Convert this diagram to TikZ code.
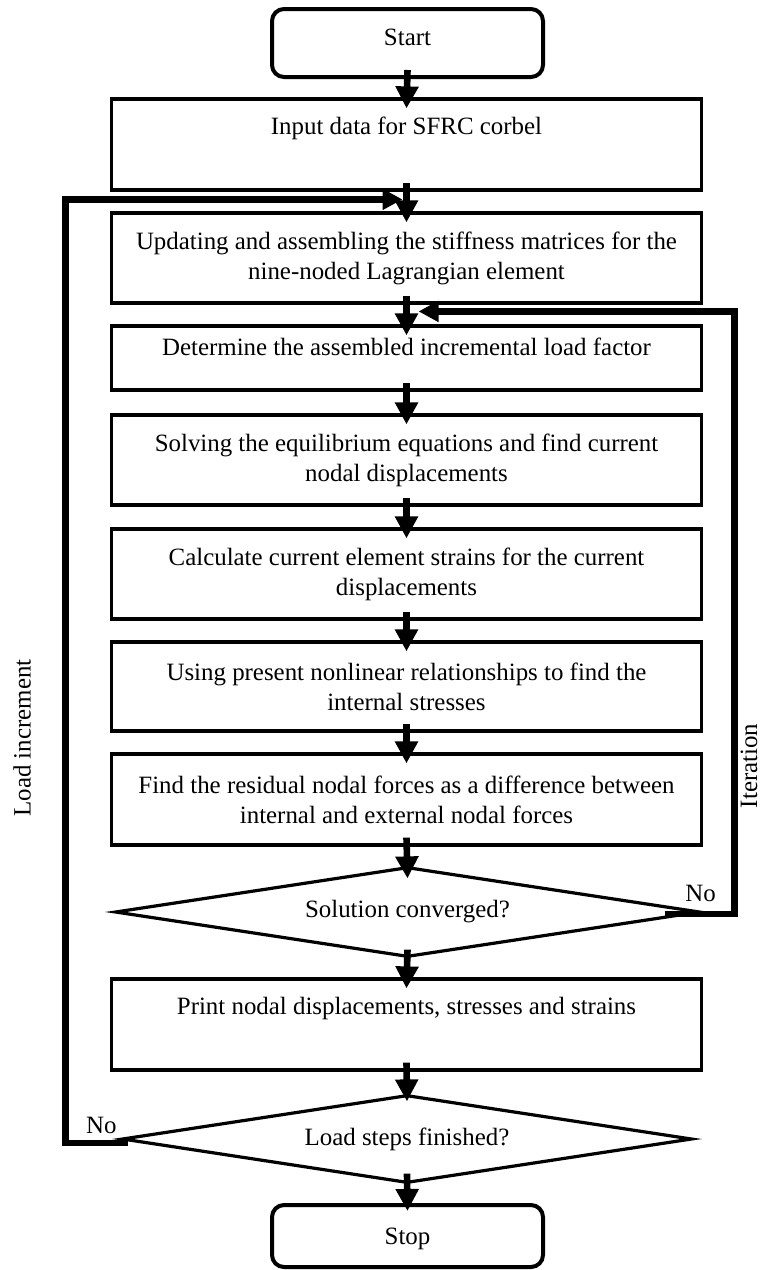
\documentclass[tikz,border=0pt]{standalone}
\usepackage{fontspec}
\setmainfont{Liberation Serif}
\usetikzlibrary{arrows.meta,shapes.geometric}
\begin{document}
\begin{tikzpicture}[x=0.5pt,y=-0.5pt,
  font=\fontsize{12.45pt}{15pt}\selectfont,
  box/.style={draw, line width=1.6pt, minimum width=295pt, align=center, inner sep=0pt},
  term/.style={draw, line width=2pt, rounded corners=6pt, minimum width=135.5pt, inner sep=0pt},
  dec/.style={draw, diamond, shape aspect=6.5, inner sep=0pt, line width=1.6pt},
  flow/.style={line width=3.3pt, -{Triangle[length=11pt,width=11pt]}},
  back/.style={line width=3.4pt, line join=miter, -{Triangle[length=10pt,width=10pt]}},
  lbl/.style={inner sep=0pt}]
\useasboundingbox (0,0) rectangle (763,1270);

\node[term, minimum height=34pt, text height=10pt, text depth=7.5pt] (start) at (407.5,43) {Start};
\node[box, minimum height=45.5pt, text height=10pt, text depth=20pt] (input) at (406.5,144.5) {Input data for SFRC corbel};
\node[box, minimum height=45pt] (upd) at (406.5,258) {Updating and assembling the stiffness matrices for the\\nine-noded Lagrangian element};
\node[box, minimum height=32pt, text height=10pt, text depth=12.5pt] (det) at (406.5,358) {Determine the assembled incremental load factor};
\node[box, minimum height=45pt] (solve) at (406.5,460) {Solving the equilibrium equations and find current\\nodal displacements};
\node[box, minimum height=45pt] (calc) at (406.5,574) {Calculate current element strains for the current\\displacements};
\node[box, minimum height=44.5pt] (using) at (406.5,686.5) {Using present nonlinear relationships to find the\\internal stresses};
\node[box, minimum height=45.5pt] (resid) at (406.5,799.5) {Find the residual nodal forces as a difference between\\internal and external nodal forces};
\node[dec, minimum width=292.5pt, minimum height=45pt] (conv) at (407.5,912) {Solution converged?};
\node[box, minimum height=45.5pt, text height=10pt, text depth=20pt] (print) at (406.5,1024.5) {Print nodal displacements, stresses and strains};
\node[dec, minimum width=285pt, minimum height=44pt] (fin) at (407,1139) {Load steps finished?};
\node[term, minimum height=31pt, text height=10pt, text depth=1.5pt] (stop) at (407.5,1236) {Stop};

\draw[flow] ([yshift=4.5pt]start.south) -- ([yshift=-5.5pt]input.north);
\draw[flow] ([yshift=4.5pt]input.south) -- ([yshift=-5.5pt]upd.north);
\draw[flow] ([yshift=4.5pt]upd.south) -- ([yshift=-5.5pt]det.north);
\draw[flow] ([yshift=4.5pt]det.south) -- ([yshift=-5.5pt]solve.north);
\draw[flow] ([yshift=4.5pt]solve.south) -- ([yshift=-5.5pt]calc.north);
\draw[flow] ([yshift=4.5pt]calc.south) -- ([yshift=-5.5pt]using.north);
\draw[flow] ([yshift=4.5pt]using.south) -- ([yshift=-5.5pt]resid.north);
\draw[flow] ([yshift=4.5pt]resid.south) -- ([yshift=-6.5pt]conv.north);
\draw[flow] ([yshift=4.5pt]conv.south) -- ([yshift=-5.5pt]print.north);
\draw[flow] ([yshift=4.5pt]print.south) -- ([yshift=-4pt]fin.north);
\draw[flow] ([yshift=5.5pt]fin.south) -- ([yshift=-4pt]stop.north);

\coordinate (ltip) at ([shift={(-2pt,6pt)}]upd.north);
\draw[back] ([shift={(4pt,-2pt)}]fin.west) -- ++(-31.5pt,0pt) |- (ltip);
\coordinate (rtip) at ([shift={(6pt,6.5pt)}]det.north);
\draw[back] ([shift={(-18.5pt,-1pt)}]conv.east) -- ++(35pt,0pt) |- (rtip);

\node[lbl] (no1) at ([shift={(-0.5pt,9.5pt)}]conv.east) {No};
\node[lbl] (no2) at ([shift={(-9.5pt,7pt)}]fin.west) {No};
\node[lbl, rotate=90] (li) at (22,738) {Load increment};
\node[lbl, rotate=90] (it) at (749,766) {Iteration};
\end{tikzpicture}
\end{document}
